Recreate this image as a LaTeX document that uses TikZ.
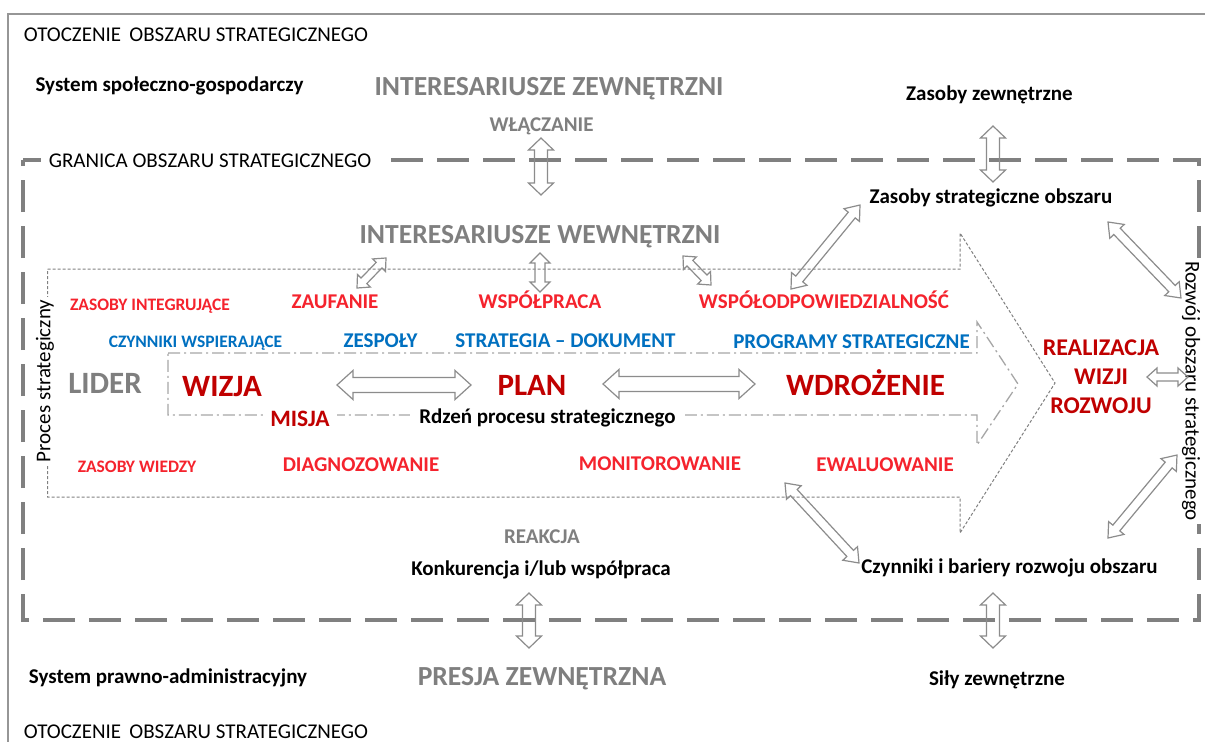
\documentclass[tikz,border=0pt]{standalone}
\usepackage{fontspec}
\setmainfont{Carlito}
\usetikzlibrary{calc}
\definecolor{tgray}{RGB}{127,127,127}
\definecolor{bred}{RGB}{245,35,45}
\definecolor{dred}{RGB}{192,0,0}
\definecolor{oblue}{RGB}{0,112,192}
\definecolor{bgray}{RGB}{128,128,128}
\definecolor{agray}{RGB}{140,140,140}
\definecolor{cgray}{RGB}{166,166,166}
\definecolor{fgray}{RGB}{150,150,150}
\newcommand\fsz[1]{\fontsize{#1}{#1}\selectfont}
\newcommand\hpt[2]{({\x1+(#1)*cos(\n1)-(#2)*sin(\n1)},{\y1+(#1)*sin(\n1)+(#2)*cos(\n1)})}
\begin{document}
\begin{tikzpicture}[x=1pt,y=-1pt,
  txt/.style={inner sep=0pt, anchor=base, font=\fsz{21}\bfseries},
  txtr/.style={inner sep=0pt, anchor=base, font=\fsz{21}},
  small/.style={inner sep=0pt, anchor=base, font=\fsz{17.5}\bfseries},
  big/.style={inner sep=0pt, anchor=base, font=\fsz{31}\bfseries},
  stake/.style={inner sep=0pt, anchor=base, font=\fsz{27.6}\bfseries, text=tgray},
  whitebg/.style={fill=white},
  frame/.style={draw=fgray, line width=1.6pt},
  border/.style={draw=bgray, line width=4pt, dash pattern=on 32pt off 14pt},
  procbox/.style={draw=bgray, line width=1pt, dash pattern=on 3pt off 2pt},
  corebox/.style={draw=cgray, line width=1.3pt, dash pattern=on 12pt off 4pt on 2pt off 4pt},
  hol/.style n args={3}{draw=agray, line width=1.2pt, line join=miter,
    to path={let \p1=(\tikztostart), \p2=(\tikztotarget),
      \n1={atan2(\y2-\y1,\x2-\x1)}, \n2={veclen(\x2-\x1,\y2-\y1)} in
      \hpt{0}{0} -- \hpt{#3}{#2} -- \hpt{#3}{#1} -- \hpt{\n2-#3}{#1} -- \hpt{\n2-#3}{#2}
      -- \hpt{\n2}{0} -- \hpt{\n2-#3}{-#2} -- \hpt{\n2-#3}{-#1} -- \hpt{#3}{-#1} -- \hpt{#3}{-#2} -- cycle}}
]
\useasboundingbox (0,0) rectangle (1205,742);
\fill[white] (0,0) rectangle (1205,742);

% outer frame
\draw[frame] (1205,14) -- (8,14) -- (8,742);
% strategic boundary
\draw[border] (23,160) -- (1199,160) -- (1199,620) -- (23,620) -- cycle;
% process arrow
\draw[procbox] (47.5,269) -- (960,269) -- (960,233) -- (1055,383) -- (960,533) -- (960,497) -- (47.5,497) -- cycle;
% core arrow
\draw[corebox] (168,353) -- (977,353) -- (977,322) -- (1018,384) -- (977,445) -- (977,415) -- (168,415) -- cycle;

% texts
\node[txtr] (otoc1) at (196,41) {OTOCZENIE\, OBSZARU STRATEGICZNEGO};
\node[txt] (sysspol) at (169.5,91) {System społeczno-gospodarczy};
\node[txtr, whitebg, inner xsep=8pt, inner ysep=4pt] (granica) at (210,167) {GRANICA OBSZARU STRATEGICZNEGO};
\node[stake] (intzew) at (549,95) {INTERESARIUSZE ZEWNĘTRZNI};
\node[txt, text=tgray] (wlacz) at (541.5,131) {WŁĄCZANIE};
\node[txt] (zaszew) at (989.5,100) {Zasoby zewnętrzne};
\node[txt] (zasstr) at (991,203) {Zasoby strategiczne obszaru};
\node[stake] (intwew) at (540,243) {INTERESARIUSZE WEWNĘTRZNI};

\node[small, text=bred] (zasint) at (150,310) {ZASOBY INTEGRUJĄCE};
\node[txt, text=bred] (zauf) at (335,308) {ZAUFANIE};
\node[txt, text=bred] (wspol) at (540,308) {WSPÓŁPRACA};
\node[txt, text=bred] (wspodp) at (824,308) {WSPÓŁODPOWIEDZIALNOŚĆ};

\node[small, text=oblue] (czyn) at (195.5,347) {CZYNNIKI WSPIERAJĄCE};
\node[txt, text=oblue] (zesp) at (380.5,347) {ZESPOŁY};
\node[txt, text=oblue] (strdok) at (565.5,347) {STRATEGIA – DOKUMENT};
\node[txt, text=oblue] (progr) at (851.5,348) {PROGRAMY STRATEGICZNE};

\node[big, text=tgray] (lider) at (105,393) {LIDER};
\node[big, text=dred] (wizja) at (222,396) {WIZJA};
\node[big, text=dred] (plan) at (532,395) {PLAN};
\node[big, text=dred] (wdroz) at (865.5,395) {WDROŻENIE};
\node[inner xsep=7pt, inner ysep=2pt, anchor=base, font=\fsz{23.5}\bfseries, text=dred, whitebg] (misja) at (300,426) {MISJA};
\node[txt, whitebg, inner xsep=9pt, inner ysep=2pt] (rdzen) at (547.5,423) {Rdzeń procesu strategicznego};

\node[small, text=bred] (zaswied) at (137,472) {ZASOBY WIEDZY};
\node[txt, text=bred] (diagn) at (361,471) {DIAGNOZOWANIE};
\node[txt, text=bred] (monit) at (660,470) {MONITOROWANIE};
\node[txt, text=bred] (ewal) at (885,471) {EWALUOWANIE};

\node[inner sep=0pt, anchor=base, font=\fsz{24}\bfseries, text=dred] (real) at (1101,355) {REALIZACJA};
\node[inner sep=0pt, anchor=base, font=\fsz{24}\bfseries, text=dred] (wizji) at (1101,384) {WIZJI};
\node[inner sep=0pt, anchor=base, font=\fsz{24}\bfseries, text=dred] (rozw) at (1101,413) {ROZWOJU};

\node[txt, text=tgray] (reak) at (542,543) {REAKCJA};
\node[txt] (konk) at (541,575) {Konkurencja i/lub współpraca};
\node[txt] (czbar) at (1009.5,573) {Czynniki i bariery rozwoju obszaru};
\node[stake] (presja) at (542,685) {PRESJA ZEWNĘTRZNA};
\node[txt] (sysprawn) at (168,683) {System prawno-administracyjny};
\node[txt] (silyz) at (997,685) {Siły zewnętrzne};
\node[txtr] (otoc2) at (196,738) {OTOCZENIE\, OBSZARU STRATEGICZNEGO};

\node[font=\fsz{21}, rotate=90, whitebg, inner xsep=3pt, inner ysep=1pt] (proc) at (45,381) {Proces strategiczny};
\node[font=\fsz{21}, rotate=-90, whitebg, inner xsep=3pt, inner ysep=1pt] (rozwoj) at (1191,391) {Rozwój obszaru strategicznego};

% arrow end points
\coordinate (a1s) at (541,138);  \coordinate (a1e) at (541,195);
\coordinate (a2s) at (993,126);  \coordinate (a2e) at (993,182);
\coordinate (a3s) at (540,253);  \coordinate (a3e) at (540,292);
\coordinate (a4s) at (357,288);  \coordinate (a4e) at (386,258);
\coordinate (a5s) at (683,256);  \coordinate (a5e) at (711,285);
\coordinate (a6s) at (791,289);  \coordinate (a6e) at (860,205);
\coordinate (a7s) at (1108,222); \coordinate (a7e) at (1181,298);
\coordinate (a8s) at (1147,377); \coordinate (a8e) at (1188,377);
\coordinate (a9s) at (1108,538); \coordinate (a9e) at (1177,455);
\coordinate (a10s) at (785,483); \coordinate (a10e) at (859,563);
\coordinate (a11s) at (993,593); \coordinate (a11e) at (993,648);
\coordinate (a12s) at (529,593); \coordinate (a12e) at (529,648);
\coordinate (a13s) at (337,385); \coordinate (a13e) at (471,385);
\coordinate (a14s) at (603,384); \coordinate (a14e) at (755,384);

\draw[hol={6.5}{12.5}{12}] (a1s) to (a1e);
\draw[hol={6.5}{12.5}{12}] (a2s) to (a2e);
\draw[hol={5}{10}{10}] (a3s) to (a3e);
\draw[hol={4}{9}{10}] (a4s) to (a4e);
\draw[hol={4}{9}{10}] (a5s) to (a5e);
\draw[hol={4.5}{10}{13}] (a6s) to (a6e);
\draw[hol={4.5}{10}{13}] (a7s) to (a7e);
\draw[hol={4}{9}{10}] (a8s) to (a8e);
\draw[hol={4.5}{10}{13}] (a9s) to (a9e);
\draw[hol={4.5}{10}{13}] (a10s) to (a10e);
\draw[hol={6.5}{12.5}{12}] (a11s) to (a11e);
\draw[hol={6.5}{12.5}{12}] (a12s) to (a12e);
\draw[hol={7.5}{14.5}{16}] (a13s) to (a13e);
\draw[hol={7.5}{14.5}{16}] (a14s) to (a14e);
\end{tikzpicture}
\end{document}
